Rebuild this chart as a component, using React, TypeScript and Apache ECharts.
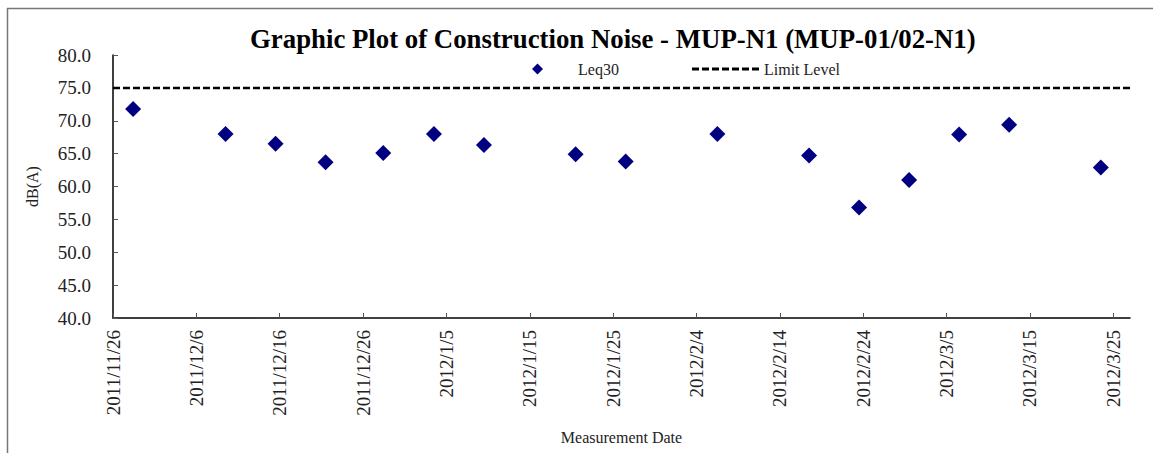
import React, { useEffect, useRef } from "react";
import * as echarts from "echarts";

// ---- data ----
const startDate = "2011/11/26";
const tickDates = [
  "2011/11/26", "2011/12/6", "2011/12/16", "2011/12/26", "2012/1/5", "2012/1/15",
  "2012/1/25", "2012/2/4", "2012/2/14", "2012/2/24", "2012/3/5", "2012/3/15", "2012/3/25",
];
const axisEndDate = "2012/3/27";
const measureDates = [
  "2011/11/28 10:00", "2011/12/9 12:00", "2011/12/15 12:00", "2011/12/21 12:00",
  "2011/12/28 10:00", "2012/1/3 12:00", "2012/1/9 12:00", "2012/1/20 12:00",
  "2012/1/26 12:00", "2012/2/6 12:00", "2012/2/17 12:00", "2012/2/23 12:00",
  "2012/2/29 12:00", "2012/3/6 12:00", "2012/3/12 12:00", "2012/3/23 12:00",
];
const leq30 = [71.8, 68.0, 66.5, 63.7, 65.1, 68.0, 66.3, 64.9, 63.8, 68.0, 64.7, 56.8, 61.0, 67.9, 69.4, 62.9];
const limitLevel = 75;
const yTicks = [40, 45, 50, 55, 60, 65, 70, 75, 80];

const DAY = 86400000;
function parseDate(s: string): number {
  const [d, t] = s.split(" ");
  const [y, m, dd] = d.split("/").map(Number);
  let h = 0, mi = 0;
  if (t) [h, mi] = t.split(":").map(Number);
  return Date.UTC(y, m - 1, dd, h, mi);
}
const t0 = parseDate(startDate);
const toOffset = (s: string) => (parseDate(s) - t0) / DAY;
const offsetToLabel = (v: number) => {
  const d = new Date(t0 + Math.round(v) * DAY);
  return `${d.getUTCFullYear()}/${d.getUTCMonth() + 1}/${d.getUTCDate()}`;
};

const FONT = "'Liberation Serif', 'Times New Roman', serif";
const DASH_ICON =
  "path://M0,0h7v3h-7z M10,0h7v3h-7z M20,0h7v3h-7z M30,0h7v3h-7z M40,0h7v3h-7z M50,0h7v3h-7z M60,0h7v3h-7z";

export default function App() {
  const ref = useRef<HTMLDivElement>(null);
  useEffect(() => {
    document.body.style.margin = "0";
    if (!ref.current) return;
    const chart = echarts.init(ref.current, undefined, { renderer: "svg" });
    const tickOffsets = tickDates.map(toOffset);
    const xMax = toOffset(axisEndDate);
    chart.setOption({
      animation: false,
      backgroundColor: "#ffffff",
      title: {
        text: "Graphic Plot of Construction Noise - MUP-N1 (MUP-01/02-N1)",
        left: 245,
        top: 20,
        textStyle: { fontFamily: FONT, fontWeight: "bold", fontSize: 26.8, color: "#000" },
      },
      legend: [
        {
          left: 527,
          top: 56,
          itemWidth: 11,
          itemHeight: 11,
          textStyle: { fontFamily: FONT, fontSize: 16, color: "#222", padding: [0, 0, 0, 30] },
          data: [{ name: "Leq30", icon: "diamond", itemStyle: { color: "#000080" } }],
        },
        {
          left: 687,
          top: 56,
          itemWidth: 67,
          itemHeight: 3,
          textStyle: { fontFamily: FONT, fontSize: 16, color: "#222" },
          data: [{ name: "Limit Level", icon: DASH_ICON, itemStyle: { color: "#000" } }],
        },
      ],
      graphic: [
        { type: "line", shape: { x1: 7, y1: 8.5, x2: 1153, y2: 8.5 }, style: { stroke: "#777", lineWidth: 1.5 } },
        { type: "line", shape: { x1: 7.5, y1: 8, x2: 7.5, y2: 453 }, style: { stroke: "#777", lineWidth: 1.5 } },
      ],
      grid: { left: 113, right: 23, top: 55, bottom: 135, containLabel: false },
      xAxis: {
        type: "value",
        min: 0,
        max: xMax,
        interval: 10,
        name: "Measurement Date",
        nameLocation: "middle",
        nameGap: 111,
        nameTextStyle: { fontFamily: FONT, fontSize: 16, color: "#222" },
        axisLine: { lineStyle: { color: "#000", width: 1.5 } },
        axisTick: { inside: true, length: 5, lineStyle: { color: "#555" }, customValues: tickOffsets },
        axisLabel: {
          rotate: 90,
          margin: 12,
          fontFamily: FONT,
          fontSize: 19,
          color: "#222",
          customValues: tickOffsets,
          formatter: (v: number) => offsetToLabel(v),
        },
        splitLine: { show: false },
      },
      yAxis: {
        type: "value",
        min: yTicks[0],
        max: yTicks[yTicks.length - 1],
        interval: 5,
        name: "dB(A)",
        nameLocation: "middle",
        nameGap: 73,
        nameTextStyle: { fontFamily: FONT, fontSize: 16, color: "#222" },
        axisLine: { show: true, lineStyle: { color: "#000", width: 1.5 } },
        axisTick: { show: true, inside: true, length: 5, lineStyle: { color: "#555" } },
        axisLabel: {
          margin: 22,
          fontFamily: FONT,
          fontSize: 19,
          color: "#222",
          formatter: (v: number) => v.toFixed(1),
        },
        splitLine: { show: false },
      },
      series: [
        {
          name: "Leq30",
          type: "scatter",
          symbol: "diamond",
          symbolSize: 16,
          itemStyle: { color: "#000080", opacity: 1 },
          data: measureDates.map((d, i) => [toOffset(d), leq30[i]]),
          z: 3,
        },
        {
          name: "Limit Level",
          type: "line",
          symbol: "none",
          lineStyle: { color: "#000", width: 2.5, type: [7, 3] },
          itemStyle: { color: "#000" },
          data: [[0, limitLevel], [xMax, limitLevel]],
          z: 2,
        },
      ],
    });
    return () => chart.dispose();
  }, []);
  return <div ref={ref} style={{ width: 1153, height: 453 }} />;
}
